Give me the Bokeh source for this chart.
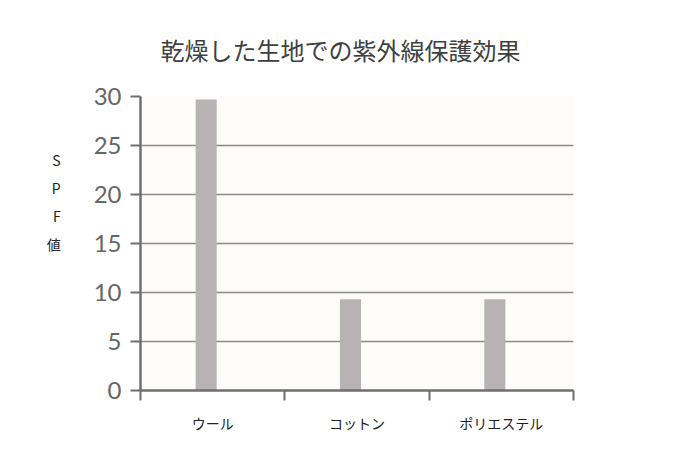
from bokeh.plotting import figure
from bokeh.models import Range1d, FixedTicker, ColumnDataSource
from bokeh.embed import file_html
from bokeh.resources import INLINE

categories = ["ウール", "コットン", "ポリエステル"]
spf_values = [29.7, 9.3, 9.3]
y_ticks = [0, 5, 10, 15, 20, 25, 30]

positions = [i + 0.455 for i in range(len(categories))]
src = ColumnDataSource(dict(x=positions, top=spf_values))

p = figure(width=688, height=453, output_backend="svg", toolbar_location=None,
           x_range=Range1d(0, len(categories)), y_range=Range1d(0, 30),
           min_border_left=140, min_border_right=115, min_border_bottom=63, min_border_top=95)

p.title.text = "乾燥した生地での紫外線保護効果"
p.title.align = "left"
p.title.text_font = "Noto Sans CJK JP"
p.title.text_font_size = "24px"
p.title.text_font_style = "normal"
p.title.text_color = "#404040"
p.title.offset = 20
p.title.standoff = 59

p.background_fill_color = "#fefcf9"
p.border_fill_color = "white"
p.outline_line_color = None

p.vbar(x="x", top="top", width=0.146, bottom=0, source=src, fill_color="#b9b2b4", line_color=None)

# x axis
xt = FixedTicker(ticks=[i + 0.5 for i in range(len(categories))],
                 minor_ticks=list(range(len(categories) + 1)))
p.xaxis.ticker = xt
p.xaxis.major_label_overrides = {i + 0.5: c for i, c in enumerate(categories)}
p.xaxis.major_tick_out = 0
p.xaxis.major_tick_in = 0
p.xaxis.minor_tick_out = 10
p.xaxis.minor_tick_in = 0
p.xaxis.minor_tick_line_color = "#6f6f6f"
p.xaxis.minor_tick_line_width = 2
p.xaxis.axis_line_color = "#6f6f6f"
p.xaxis.axis_line_width = 2.5
p.xaxis.major_label_text_font = "Noto Sans CJK JP"
p.xaxis.major_label_text_font_size = "14px"
p.xaxis.major_label_text_color = "#222222"
p.xaxis.major_label_standoff = 12

# y axis
p.yaxis.ticker = FixedTicker(ticks=y_ticks)
p.yaxis.minor_tick_line_color = None
p.yaxis.major_tick_out = 10
p.yaxis.major_tick_in = 0
p.yaxis.major_tick_line_color = "#6f6f6f"
p.yaxis.major_tick_line_width = 2
p.yaxis.axis_line_color = "#6f6f6f"
p.yaxis.axis_line_width = 2.5
p.yaxis.major_label_text_font = "Lato"
p.yaxis.major_label_text_font_size = "24px"
p.yaxis.major_label_text_color = "#666666"
p.yaxis.major_label_standoff = 9
p.yaxis.axis_label = "S\nP\nF\n値\n\n\n"
p.yaxis.axis_label_orientation = "horizontal"
p.yaxis.axis_label_text_font = "Noto Sans CJK JP"
p.yaxis.axis_label_text_font_size = "14px"
p.yaxis.axis_label_text_font_style = "normal"
p.yaxis.axis_label_text_color = "#222222"
p.yaxis.axis_label_text_line_height = 1.4
p.yaxis.axis_label_standoff = 30

p.xgrid.grid_line_color = None
p.ygrid.grid_line_color = "#8a8a8a"
p.ygrid.grid_line_width = 1.5

open("out.html", "w").write(file_html(p, INLINE))
